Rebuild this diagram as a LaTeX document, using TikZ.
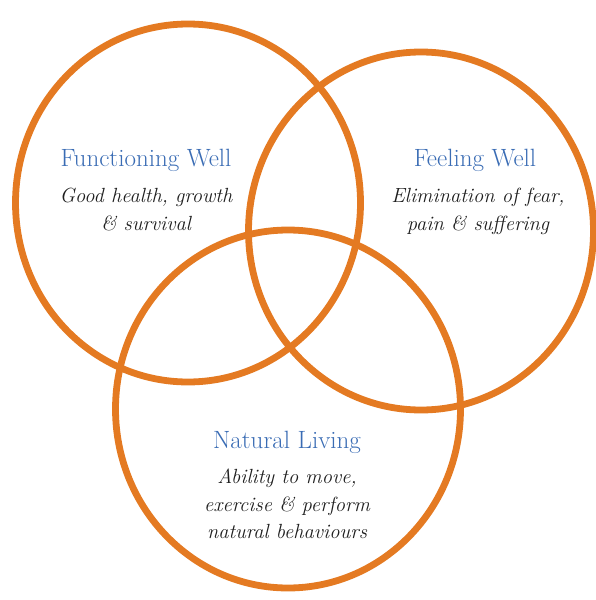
\documentclass[tikz,border=0pt]{standalone}
\usetikzlibrary{shapes.geometric}
\definecolor{ringorange}{RGB}{228,122,34}
\definecolor{titleblue}{RGB}{58,108,180}
\definecolor{bodytext}{RGB}{30,30,30}
\tikzset{
  ring/.style={ellipse, draw=ringorange, line width=6.8pt, inner sep=0pt, outer sep=0pt,
    minimum width=345pt, minimum height=358pt},
  title/.style={text=titleblue, font=\fontsize{25}{28}\selectfont, anchor=base, inner sep=0pt},
  desc/.style={text=bodytext, font=\fontsize{20.5}{27.5}\selectfont\itshape, align=center,
    anchor=north, inner sep=0pt}
}
\begin{document}
\begin{tikzpicture}[x=1pt,y=-1pt]
  \useasboundingbox (0,0) rectangle (596,600);
  \node[ring] (fwc) at (188,203) {};
  \node[ring] (flc) at (421,231) {};
  \node[ring] (nlc) at (288,409) {};
  \node[title] (fwt) at (146,166) {Functioning Well};
  \node[desc] (fwd) at (146,188) {Good health, growth\\ \& survival};
  \node[title] (flt) at (475,166) {Feeling Well};
  \node[desc] (fld) at (478,188) {Elimination of fear,\\ pain \& suffering};
  \node[title] (nlt) at (287,448) {Natural Living};
  \node[desc] (nld) at (287,469) {Ability to move,\\ exercise \& perform\\ natural behaviours};
\end{tikzpicture}
\end{document}
